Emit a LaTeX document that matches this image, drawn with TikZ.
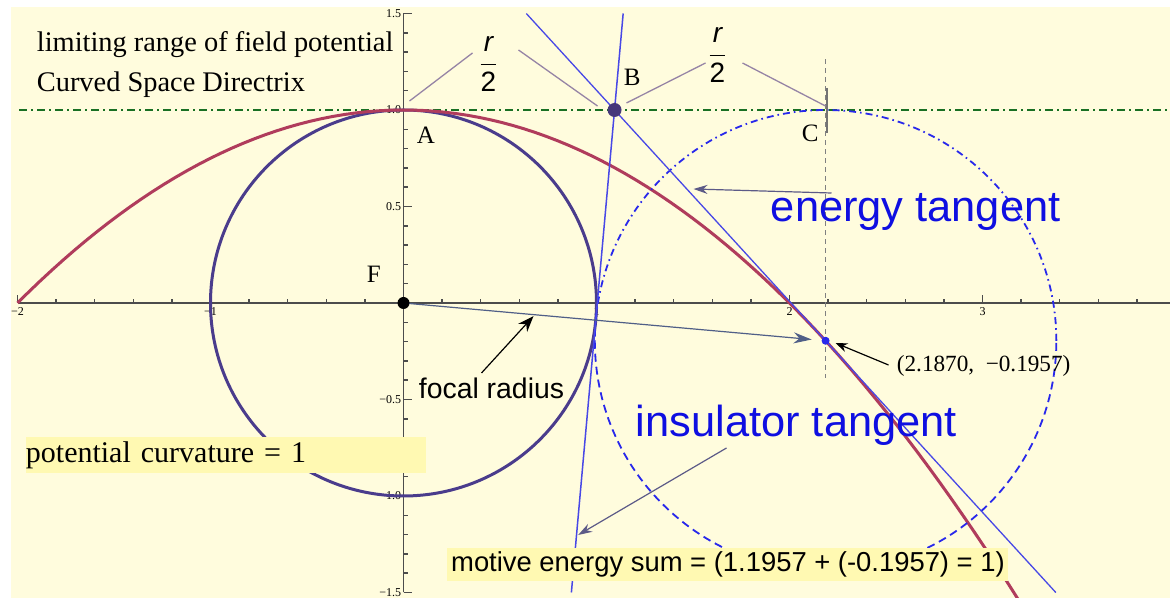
\documentclass[tikz,border=0pt]{standalone}
\usepackage{fontspec}
\setmainfont{Liberation Serif}
\setsansfont{Liberation Sans}
\usetikzlibrary{arrows.meta}
\definecolor{bgyellow}{RGB}{255,252,221}
\definecolor{hlyellow}{RGB}{255,249,178}
\definecolor{curvered}{RGB}{176,60,92}
\definecolor{circpurple}{RGB}{74,60,140}
\definecolor{tanblue}{RGB}{72,72,230}
\definecolor{circblue}{RGB}{40,40,235}
\definecolor{textblue}{RGB}{15,15,225}
\definecolor{dirgreen}{RGB}{25,112,35}
\definecolor{notegray}{RGB}{150,132,165}
\definecolor{arrowslate}{RGB}{92,90,135}
\definecolor{focalslate}{RGB}{80,95,135}
\definecolor{bpurple}{RGB}{70,56,122}
\tikzset{
  axisline/.style={draw=black!70, line width=0.75pt},
  ticklabel/.style={font=\fontsize{6}{7}\selectfont, inner sep=1pt},
  directrix/.style={draw=dirgreen, line width=1.2pt, dash pattern=on 4pt off 2pt on 1pt off 2pt},
  parab/.style={draw=curvered, line width=1.5pt},
  unitcirc/.style={draw=circpurple, line width=1.5pt},
  tanline/.style={draw=tanblue, line width=0.65pt},
  upcirc/.style={draw=circblue, line width=0.9pt, dash pattern=on 3.5pt off 2pt on 0.8pt off 2pt},
  lowcirc/.style={draw=circblue, line width=0.9pt, dash pattern=on 4pt off 2.5pt},
  noteline/.style={draw=notegray, line width=0.65pt},
  serifnote/.style={font=\fontsize{14.2}{17}\selectfont, inner sep=0pt},
  ptlabel/.style={font=\fontsize{12.5}{15}\selectfont, inner sep=0pt},
  bigblue/.style={font=\sffamily\fontsize{21.7}{26}\selectfont, text=textblue, inner sep=0pt},
  sansnote/.style={font=\sffamily\fontsize{14.2}{17}\selectfont, inner sep=0pt},
  halfr/.style={font=\sffamily\fontsize{14}{17}\selectfont, inner sep=0pt},
  hlbox/.style={fill=hlyellow, inner sep=0pt},
  grayarrow/.style={draw=arrowslate, line width=0.6pt, -{Stealth[length=7pt,width=4.5pt]}},
  blackarrow/.style={draw=black, line width=0.6pt, -{Stealth[length=7pt,width=5pt]}},
}
\begin{document}
\begin{tikzpicture}[x=96.5pt,y=96.5pt]
% 边界
\useasboundingbox (-2.0907,-1.5285) rectangle (3.9715,1.5699);
\fill[white] (-2.0907,-1.5285) rectangle (3.9715,1.5699);
\fill[bgyellow] (-2.0337,-1.5285) rectangle (3.9715,1.5337);
% 点
\coordinate (F) at (0,0);
\coordinate (A) at (0,1);
\coordinate (B) at (1.0935,1);
\coordinate (C) at (2.187,1);
\coordinate (P) at (2.187,-0.1957);
% 坐标轴
\draw[axisline] (-2,0) -- (3.9715,0);
\draw[axisline] (0,-1.5) -- (0,1.5);
\foreach \x in {-2,-1.8,...,3.95} \draw[axisline] (\x,0) -- ++(0,2pt);
\foreach \x in {-2,...,3} \draw[axisline] (\x,0) -- ++(0,4pt);
\foreach \y in {-1.5,-1.4,...,1.55} \draw[axisline] (0,\y) -- ++(2pt,0);
\foreach \y in {-1.5,-1,...,1.5} \draw[axisline] (0,\y) -- ++(4pt,0);
\foreach \x/\t in {-2/−2,-1/−1,1/1,2/2,3/3,4/4}
  \node[ticklabel, below] (xl\x) at (\x,-0.01) {\t};
\foreach \y/\t [count=\i] in {1.5/1.5,1/1.0,0.5/0.5,-0.5/−0.5,-1/−1.0,-1.5/−1.5}
  \node[ticklabel, left] (yl\i) at (0,\y) {\t};
% 准线
\draw[directrix] (-1.99,1) -- (3.9715,1);
% 曲线
\draw[unitcirc] (F) circle (1);
\draw[parab] plot[domain=-2:3.19, samples=90] (\x,{1-\x*\x/4});
\draw[upcirc] (3.3827,-0.1957) arc[start angle=0, end angle=180, radius=1.1957];
\draw[lowcirc] (0.9913,-0.1957) arc[start angle=180, end angle=360, radius=1.1957];
% 切线
\draw[tanline] (0.6363,1.5) -- (3.3798,-1.5);
\draw[tanline, line width=0.75pt] (1.1382,1.5) -- (0.8699,-1.5);
% C 处竖线
\draw[gray, line width=0.55pt, dash pattern=on 2.5pt off 2pt] (2.187,1.264) -- (2.187,-0.389);
\draw[black!55, line width=1pt] (2.1917,1.114) -- (2.1917,0.881);
% r/2 标注
\draw[noteline] (0.0311,1.0466) -- (0.3575,1.2953);
\draw[noteline] (0.5959,1.3109) -- (1.0052,1.0207);
\draw[noteline] (1.1554,1.0363) -- (1.5648,1.2435);
\draw[noteline] (1.7565,1.2435) -- (2.1865,1.0207);
\node[halfr] (half1) at (0.4404,1.2383) {$\displaystyle\frac{\mbox{\itshape r}}{\mbox{2}}$};
\node[halfr] (half2) at (1.6270,1.2850) {$\displaystyle\frac{\mbox{\itshape r}}{\mbox{2}}$};
% 焦半径
\draw[draw=focalslate, line width=0.6pt, shorten >=7pt, -{Stealth[length=9pt,width=5.5pt]}] (F) -- (P);
\fill[black] (F) circle (3pt);
\fill[bpurple] (B) circle (3.5pt);
\fill[circblue] (P) circle (2pt);
% 字母
\node[ptlabel, anchor=base west] (Alab) at (0.0674,0.8238) {A};
\node[ptlabel, anchor=base west] (Blab) at (1.1400,1.1244) {B};
\node[ptlabel, anchor=base west] (Clab) at (2.0620,0.8342) {C};
\node[ptlabel, anchor=base west] (Flab) at (-0.1917,0.1036) {F};
% 文字
\node[serifnote, anchor=base west] (limit) at (-1.9016,1.3005) {limiting range of field potential};
\node[serifnote, anchor=base west] (csd) at (-1.9016,1.0933) {Curved Space Directrix};
\node[bigblue, anchor=base west] (energy) at (1.9016,0.4197) {energy tangent};
\node[bigblue, anchor=base west] (insul) at (1.2021,-0.6943) {insulator tangent};
\node[sansnote, anchor=base west] (focal) at (0.0777,-0.4974) {focal radius};
\node[ptlabel, font=\fontsize{11.6}{14}\selectfont, anchor=base west] (ptxt) at (2.5544,-0.3575) {(2.1870,\enspace−0.1957)};
% 箭头
\coordinate (etail) at (2.2176,0.5699);
\coordinate (etip) at (1.5026,0.5907);
\coordinate (itail) at (1.6736,-0.7513);
\coordinate (itip) at (0.9050,-1.2020);
\coordinate (ftail) at (0.4041,-0.3627);
\coordinate (ftip) at (0.6736,-0.0680);
\coordinate (ptail) at (2.5130,-0.3212);
\coordinate (ptip) at (2.2383,-0.2073);
\draw[grayarrow] (etail) -- (etip);
\draw[grayarrow] (itail) -- (itip);
\draw[blackarrow, -{Stealth[length=8pt,width=6pt]}] (ftail) -- (ftip);
\draw[blackarrow, -{Stealth[length=6pt,width=4.5pt]}] (ptail) -- (ptip);
% 高亮框
\node[hlbox, font=\fontsize{15}{18}\selectfont, anchor=west, text width=200pt, minimum height=18pt, align=left] (curv) at (-1.9585,-0.7876) {potential curvature = 1};
\node[hlbox, font=\sffamily\fontsize{13.7}{16}\selectfont, minimum width=280.5pt, minimum height=16.5pt] (motive) at (1.6813,-1.3549) {motive energy sum = (1.1957 + (-0.1957) = 1)};
\end{tikzpicture}
\end{document}
